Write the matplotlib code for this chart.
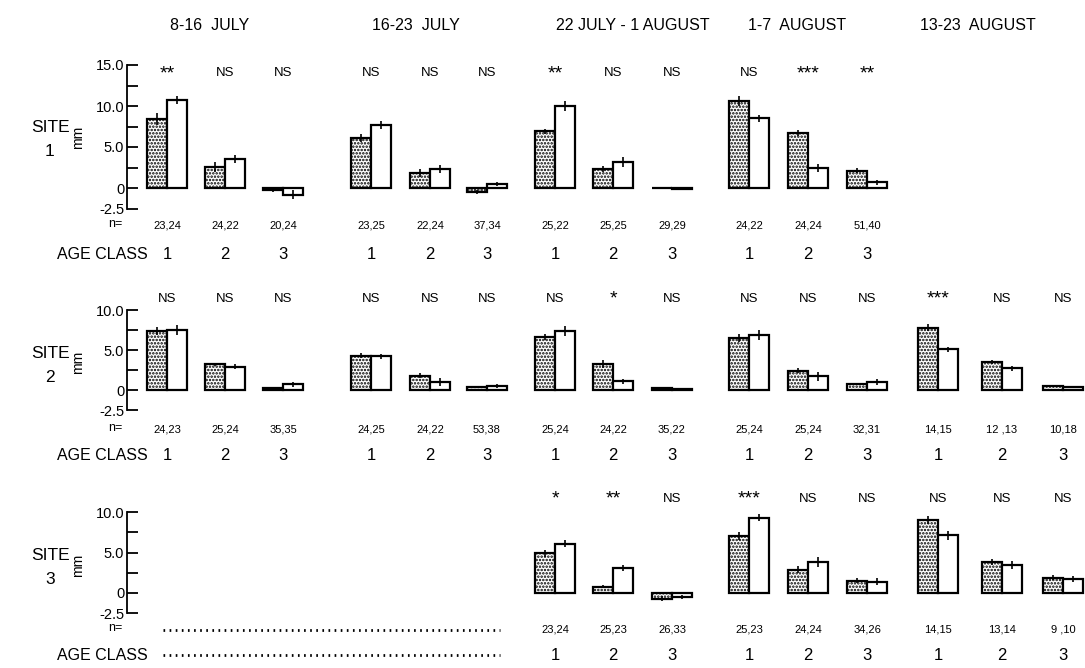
import matplotlib.pyplot as plt
from matplotlib.lines import Line2D
import numpy as np

plt.rcParams['font.family'] = ['Liberation Sans', 'DejaVu Sans']
plt.rcParams['hatch.linewidth'] = 1.2

W, H = 1085, 668

periods = ["8-16  JULY", "16-23  JULY", "22 JULY - 1 AUGUST", "1-7  AUGUST", "13-23  AUGUST"]
age_classes = ["1", "2", "3"]

# site 1 (period 5 not sampled)
s1_stip = [[8.4, 2.6, -0.3], [6.1, 1.8, -0.5], [6.9, 2.3, 0.05], [10.6, 6.7, 2.1], None]
s1_stip_err = [[0.7, 0.6, 0.2], [0.5, 0.5, 0.2], [0.3, 0.4, 0.0], [0.6, 0.4, 0.3], None]
s1_white = [[10.7, 3.5, -0.8], [7.7, 2.3, 0.5], [10.0, 3.2, -0.1], [8.5, 2.4, 0.7], None]
s1_white_err = [[0.5, 0.5, 0.5], [0.5, 0.5, 0.2], [0.6, 0.6, 0.0], [0.4, 0.5, 0.3], None]
s1_sig = [['**', 'NS', 'NS'], ['NS', 'NS', 'NS'], ['**', 'NS', 'NS'], ['NS', '***', '**'], None]
s1_n = [['23,24', '24,22', '20,24'], ['23,25', '22,24', '37,34'], ['25,22', '25,25', '29,29'],
        ['24,22', '24,24', '51,40'], None]

# site 2
s2_stip = [[7.4, 3.2, 0.2], [4.3, 1.8, 0.4], [6.6, 3.2, 0.2], [6.5, 2.4, 0.7], [7.8, 3.5, 0.5]]
s2_stip_err = [[0.5, 0.2, 0.1], [0.3, 0.3, 0.1], [0.4, 0.5, 0.1], [0.5, 0.3, 0.1], [0.4, 0.3, 0.1]]
s2_white = [[7.5, 2.9, 0.7], [4.2, 1.0, 0.5], [7.4, 1.1, 0.1], [6.9, 1.7, 1.0], [5.1, 2.7, 0.4]]
s2_white_err = [[0.6, 0.3, 0.3], [0.3, 0.5, 0.2], [0.6, 0.3, 0.1], [0.6, 0.6, 0.4], [0.3, 0.3, 0.1]]
s2_sig = [['NS', 'NS', 'NS'], ['NS', 'NS', 'NS'], ['NS', '*', 'NS'], ['NS', 'NS', 'NS'], ['***', 'NS', 'NS']]
s2_n = [['24,23', '25,24', '35,35'], ['24,25', '24,22', '53,38'], ['25,24', '24,22', '35,22'],
        ['25,24', '25,24', '32,31'], ['14,15', '12 ,13', '10,18']]

# site 3 (periods 1-2 not sampled)
s3_stip = [None, None, [4.9, 0.8, -0.7], [7.0, 2.9, 1.5], [9.0, 3.8, 1.9]]
s3_stip_err = [None, None, [0.4, 0.2, 0.3], [0.5, 0.4, 0.3], [0.5, 0.4, 0.3]]
s3_white = [None, None, [6.1, 3.1, -0.5], [9.3, 3.8, 1.4], [7.1, 3.5, 1.7]]
s3_white_err = [None, None, [0.4, 0.4, 0.3], [0.4, 0.6, 0.4], [0.5, 0.5, 0.4]]
s3_sig = [None, None, ['*', '**', 'NS'], ['***', 'NS', 'NS'], ['NS', 'NS', 'NS']]
s3_n = [None, None, ['23,24', '25,23', '26,33'], ['25,23', '24,24', '34,26'], ['14,15', '13,14', '9 ,10']]

# layout (pixels)
class_x = [[167, 225, 283], [371, 430, 487], [555, 613, 672], [749, 808, 867], [938, 1002, 1063]]
header_x = [170, 372, 556, 748, 920]
bw = 20
axis_x = 127

fig = plt.figure(figsize=(W / 100, H / 100), dpi=100)


def ftext(x, y, s, **kw):
    kw.setdefault('va', 'center')
    kw.setdefault('ha', 'center')
    fig.text(x / W, 1 - y / H, s, **kw)


for i, p in enumerate(periods):
    ftext(header_x[i], 25, p, ha='left', fontsize=11.5)

rows = [
    dict(y0=188, s=8.2, top=15.0, site='1', stip=s1_stip, stip_err=s1_stip_err, white=s1_white,
         white_err=s1_white_err, sig=s1_sig, n=s1_n, sig_y=72, n_y=226, age_y=255, site_y=140),
    dict(y0=390, s=8.0, top=10.0, site='2', stip=s2_stip, stip_err=s2_stip_err, white=s2_white,
         white_err=s2_white_err, sig=s2_sig, n=s2_n, sig_y=297, n_y=430, age_y=455, site_y=365),
    dict(y0=593, s=8.1, top=10.0, site='3', stip=s3_stip, stip_err=s3_stip_err, white=s3_white,
         white_err=s3_white_err, sig=s3_sig, n=s3_n, sig_y=497, n_y=630, age_y=655, site_y=568),
]

for r in rows:
    lo, hi = -3.5, r['top'] + 1.5
    bottom_px = r['y0'] - r['s'] * lo
    ax = fig.add_axes([0, 1 - bottom_px / H, 1, r['s'] * (hi - lo) / H])
    ax.set_xlim(0, W)
    ax.set_ylim(lo, hi)
    ax.patch.set_visible(False)
    for sp in ['top', 'right', 'bottom']:
        ax.spines[sp].set_visible(False)
    ax.spines['left'].set_position(('data', axis_x))
    ax.spines['left'].set_bounds(-2.5, r['top'])
    ax.spines['left'].set_linewidth(1.3)
    ax.set_xticks([])
    major = [-2.5, 0, 5, 10] + ([15] if r['top'] > 10 else [])
    labels = ['-2.5', '0', '5.0', '10.0'] + (['15.0'] if r['top'] > 10 else [])
    ax.set_yticks(major)
    ax.set_yticklabels(labels)
    ax.set_yticks(np.arange(2.5, r['top'], 5), minor=True)
    ax.tick_params(axis='y', which='both', direction='in', length=8, width=1.3, labelsize=10.5, pad=2)

    for g in range(len(periods)):
        if r['stip'][g] is None:
            continue
        x = np.array(class_x[g], dtype=float)
        ax.bar(x - bw / 2, r['stip'][g], bw, facecolor='white', edgecolor='black', hatch='.....', lw=1.6)
        ax.bar(x + bw / 2, r['white'][g], bw, facecolor='white', edgecolor='black', lw=1.6)
        ax.errorbar(x - bw / 2, r['stip'][g], yerr=r['stip_err'][g], fmt='none', ecolor='black',
                    elinewidth=1.2, capsize=0)
        ax.errorbar(x + bw / 2, r['white'][g], yerr=r['white_err'][g], fmt='none', ecolor='black',
                    elinewidth=1.2, capsize=0)
        for c in range(3):
            lab = r['sig'][g][c]
            if lab.startswith('*'):
                # asterisks sit high in the font, so drop the baseline
                ftext(class_x[g][c], r['sig_y'] + 6.5, lab, fontsize=14, va='baseline')
            else:
                ftext(class_x[g][c], r['sig_y'] + 4.5, lab, fontsize=9.5, va='baseline')
            ftext(class_x[g][c], r['n_y'], r['n'][g][c], fontsize=8)
            ftext(class_x[g][c], r['age_y'], age_classes[c], fontsize=12)

    ftext(50, r['site_y'] - 12, 'SITE', fontsize=12.5)
    ftext(50, r['site_y'] + 12, r['site'], fontsize=12.5)
    ftext(78, r['site_y'] - 3, 'mm', fontsize=10, rotation=90)
    ftext(122, r['n_y'] - 2, 'n=', fontsize=9, ha='right')
    ftext(148, r['age_y'], 'AGE CLASS', fontsize=11.5, ha='right')

# site 3, first two periods: dotted placeholders
for yy in [630, 655]:
    fig.add_artist(Line2D([163 / W, 500 / W], [1 - yy / H, 1 - yy / H], color='black',
                          lw=2, linestyle=(0, (0.6, 1.6))))

fig.savefig('out.png', dpi=100)
